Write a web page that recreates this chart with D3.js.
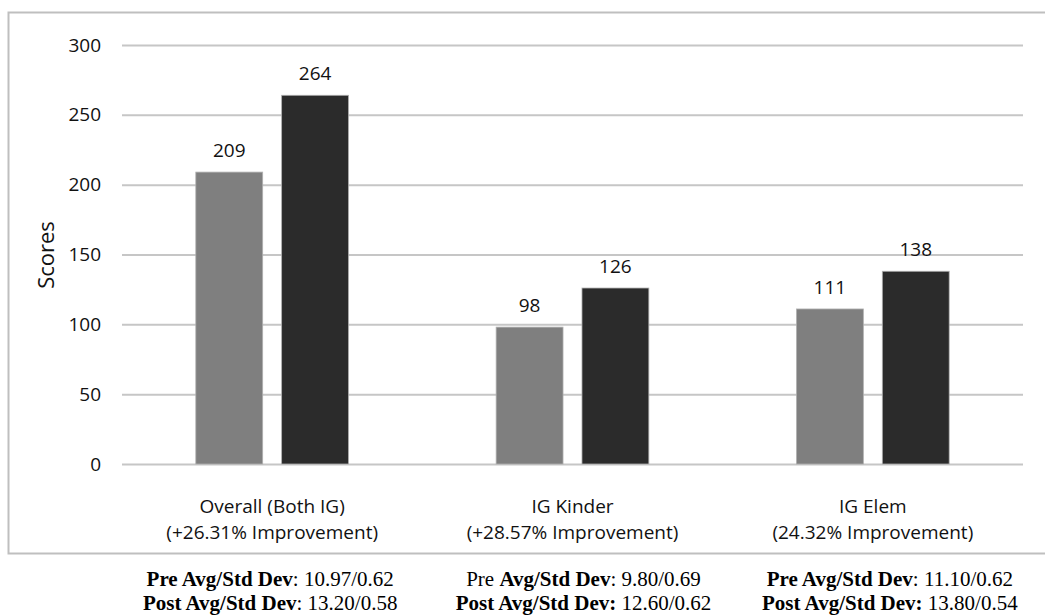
<!DOCTYPE html>
<html>
<head>
<meta charset="utf-8">
<script src="https://cdn.jsdelivr.net/npm/d3@7"></script>
<style>
  html, body { margin: 0; padding: 0; background: #fff; }
  svg { display: block; }
</style>
</head>
<body>
<svg id="chart" width="1045" height="616"></svg>
<script>
// ---- data ----
const categories = ["Overall", "IG Kinder", "IG Elem"];
const categoryLine1 = ["Overall (Both IG)", "IG Kinder", "IG Elem"];
const categoryLine2 = ["(+26.31% Improvement)", "(+28.57% Improvement)", "(24.32% Improvement)"];
const series = ["Pre", "Post"];
const preValues = [209, 98, 111];
const postValues = [264, 126, 138];
const yTicks = [0, 50, 100, 150, 200, 250, 300];
const preStats = ["10.97/0.62", "9.80/0.69", "11.10/0.62"];
const postStats = ["13.20/0.58", "12.60/0.62", "13.80/0.54"];
const seriesColors = ["#7f7f7f", "#2b2b2b"];

const svg = d3.select("#chart");
const sansFont = "'Open Sans', sans-serif";
const serifFont = "'Liberation Serif', 'Times New Roman', serif";

// frame
svg.append("rect")
  .attr("x", 8.5).attr("y", 12.5)
  .attr("width", 1045).attr("height", 541)
  .attr("fill", "none").attr("stroke", "#bfbfbf").attr("stroke-width", 2);

const plot = { left: 122, right: 1023, top: 45, bottom: 464 };

const y = d3.scaleLinear().domain([0, 300]).range([plot.bottom, plot.top]);
const x0 = d3.scaleBand().domain(categories).range([plot.left, plot.right]).padding(0);
const x1 = d3.scaleBand().domain(series).range([0, x0.bandwidth()])
  .paddingInner(19 / 86).paddingOuter(0.86);

// gridlines
const yAxis = d3.axisLeft(y).tickValues(yTicks).tickSize(-(plot.right - plot.left)).tickPadding(21);
const gy = svg.append("g").attr("transform", `translate(${plot.left},0)`).call(yAxis);
gy.select(".domain").remove();
gy.selectAll(".tick line").attr("stroke", "#c6c6c6").attr("stroke-width", 2);
gy.selectAll(".tick text")
  .attr("font-family", sansFont).attr("font-size", 19).attr("fill", "#111");

// y axis title
svg.append("text")
  .attr("transform", `translate(54,255) rotate(-90)`)
  .attr("text-anchor", "middle")
  .attr("font-family", sansFont).attr("font-size", 22).attr("fill", "#111")
  .text("Scores");

// bars
const rows = categories.map((c, i) => ({ cat: c, vals: [preValues[i], postValues[i]] }));
const groups = svg.append("g").selectAll("g").data(rows).join("g")
  .attr("transform", d => `translate(${x0(d.cat)},0)`);

groups.selectAll("rect")
  .data(d => d.vals.map((v, j) => ({ s: series[j], v, j })))
  .join("rect")
  .attr("x", d => x1(d.s))
  .attr("y", d => y(d.v))
  .attr("width", x1.bandwidth())
  .attr("height", d => y(0) - y(d.v))
  .attr("fill", d => seriesColors[d.j])
  .attr("stroke", "#b0b0b0").attr("stroke-width", 0.8);

groups.selectAll("text.val")
  .data(d => d.vals.map((v, j) => ({ s: series[j], v, j })))
  .join("text")
  .attr("class", "val")
  .attr("x", d => x1(d.s) + x1.bandwidth() / 2)
  .attr("y", d => y(d.v) - 15)
  .attr("text-anchor", "middle")
  .attr("font-family", sansFont).attr("font-size", 19).attr("fill", "#111")
  .text(d => d.v);

// category labels
categories.forEach((c, i) => {
  const cx = x0(c) + x0.bandwidth() / 2;
  const t = svg.append("text")
    .attr("text-anchor", "middle")
    .attr("font-family", sansFont).attr("font-size", 19).attr("fill", "#111");
  t.append("tspan").attr("x", cx).attr("y", 513).text(categoryLine1[i]);
  t.append("tspan").attr("x", cx).attr("y", 539).text(categoryLine2[i]);
});

// stats below
const boldColonPre = [false, false, false];
const boldColonPost = [false, true, true];
const boldPreWord = [true, false, true];
categories.forEach((c, i) => {
  const cx = x0(c) + x0.bandwidth() / 2 + (i === 2 ? 17 : (i === 1 ? 11 : -2));
  const t1 = svg.append("text").attr("x", cx).attr("y", 586)
    .attr("text-anchor", "middle")
    .attr("font-family", serifFont).attr("font-size", 21).attr("fill", "#000");
  t1.append("tspan").attr("font-weight", boldPreWord[i] ? "bold" : "normal").text("Pre ");
  t1.append("tspan").attr("font-weight", "bold").text("Avg/Std Dev");
  t1.append("tspan").attr("font-weight", boldColonPre[i] ? "bold" : "normal").text(":");
  t1.append("tspan").text(" " + preStats[i]);

  const t2 = svg.append("text").attr("x", cx).attr("y", 610)
    .attr("text-anchor", "middle")
    .attr("font-family", serifFont).attr("font-size", 21).attr("fill", "#000");
  t2.append("tspan").attr("font-weight", "bold").text("Post Avg/Std Dev");
  t2.append("tspan").attr("font-weight", boldColonPost[i] ? "bold" : "normal").text(":");
  t2.append("tspan").text(" " + postStats[i]);
});
</script>
</body>
</html>
